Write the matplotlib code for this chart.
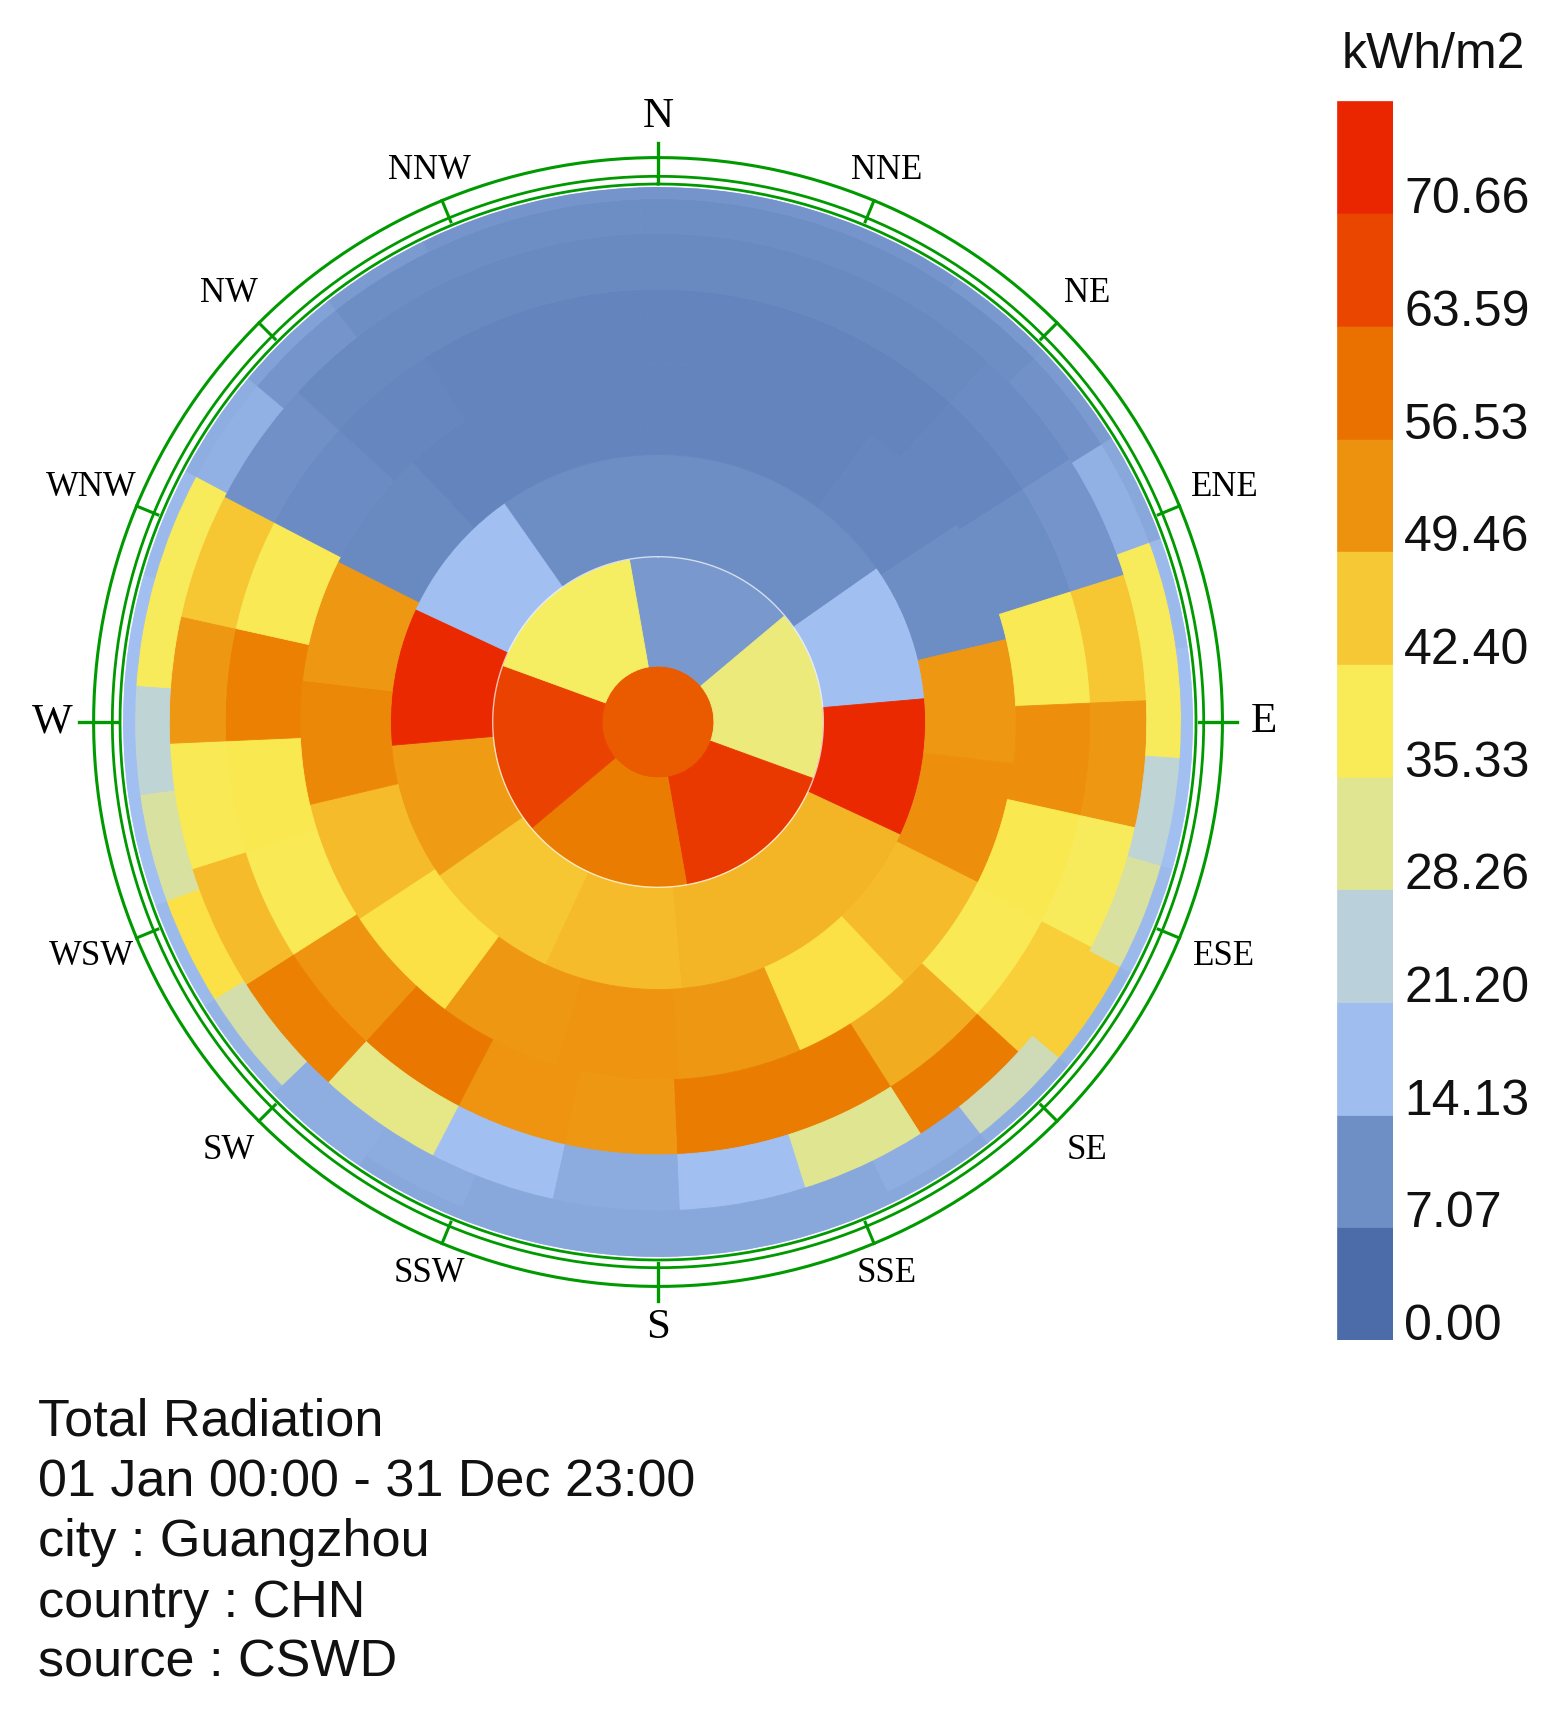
import numpy as np
import matplotlib
matplotlib.use('Agg')
import matplotlib.pyplot as plt
from matplotlib.colors import LinearSegmentedColormap, Normalize
from matplotlib.transforms import blended_transform_factory

# sky patch values (kWh/m2), Tregenza rows from zenith outwards, clockwise from north
zenith = [66]
row_72 = [9.5, 33, 73, 60, 71, 36]
row_60 = [7.5, 7.5, 16, 77, 49, 49, 48, 47, 52, 77, 16, 7.5]
row_48 = [5.5, 5.5, 6, 7.5, 53, 55, 48, 44, 53, 54, 53, 44, 48, 57, 53, 6.5, 5.5, 5.5]
row_36 = [5.5, 5.5, 5.5, 6, 7.5, 40, 55, 41, 40, 50, 60, 60, 53, 54, 61, 54, 40, 41, 59, 40,
          7, 6, 5.5, 5.5]
row_24 = [6.5, 6.5, 6.5, 7, 9, 47, 53, 38, 46, 60, 31, 16, 12.5, 16, 32, 59, 48, 40, 53, 47,
          8, 6.5, 6.5, 6.5]
row_12 = [7.5, 7.5, 7.5, 7.5, 8.5, 13.5, 38, 38, 25, 30, 46, 28, 13, 12, 12, 12, 12, 12.5, 13, 29,
          44, 30, 25, 38, 38, 13.5, 9, 7.5, 7.5, 7.5]
row_0 = [9, 9, 9, 9.5, 10, 12, 15, 16, 16, 15, 14, 13, 12, 12, 12, 12, 12, 12, 13, 14,
         15, 16, 16, 16, 15, 13, 11, 10, 9, 9]

rows = [zenith, row_72, row_60, row_48, row_36, row_24, row_12, row_0]
row_top_alt = [90, 84, 72, 60, 48, 36, 24, 12]

legend_labels = ['0.00', '7.07', '14.13', '21.20', '28.26', '35.33',
                 '42.40', '49.46', '56.53', '63.59', '70.66']
legend_max = 77.726
unit = 'kWh/m2'

main_dirs = ['N', 'E', 'S', 'W']
minor_dirs = ['NNE', 'NE', 'ENE', 'ESE', 'SE', 'SSE', 'SSW', 'SW', 'WSW', 'WNW', 'NW', 'NNW']
minor_az = [22.5, 45, 67.5, 112.5, 135, 157.5, 202.5, 225, 247.5, 292.5, 315, 337.5]

info_lines = ['Total Radiation', '01 Jan 00:00 - 31 Dec 23:00', 'city : Guangzhou',
              'country : CHN', 'source : CSWD']

lb_colors = [(75, 107, 169), (115, 147, 202), (170, 200, 247), (193, 213, 208), (245, 239, 103),
             (252, 230, 74), (239, 156, 21), (234, 123, 0), (234, 74, 0), (234, 38, 0)]
cmap = LinearSegmentedColormap.from_list('lb', [tuple(c / 255 for c in col) for col in lb_colors])
norm = Normalize(0, legend_max)

green = '#009a00'
sans = ['Liberation Sans', 'DejaVu Sans']
serif = ['Liberation Serif', 'DejaVu Serif']

fig = plt.figure(figsize=(15.58, 17.16), dpi=100)
ax = fig.add_axes([0.07895, 0.26748, 0.6868, 0.62354], projection='polar')
ax.set_theta_zero_location('N')
ax.set_theta_direction(-1)
ax.set_ylim(0, 1)
ax.set_axis_off()

# orthographic sky dome: radius = cos(altitude)
for vals, top in zip(rows, row_top_alt):
    n = len(vals)
    r_in = np.cos(np.deg2rad(top))
    r_out = np.cos(np.deg2rad(top - 12)) if top > 12 else 1.0
    if n == 1:
        r_in, r_out = 0.0, np.cos(np.deg2rad(84))
    w = 2 * np.pi / n
    theta = np.deg2rad(360.0 / n * (np.arange(n) + 0.5) - 60.0 / n)
    cols = cmap(norm(np.array(vals)))
    ax.bar(theta, r_out - r_in, width=w, bottom=r_in, color=cols,
           edgecolor=cols, linewidth=0.6, align='center')

# faint seam at the edge of the 6-patch row
tt = np.linspace(0, 2 * np.pi, 500)
ax.plot(tt, np.full_like(tt, np.cos(np.deg2rad(72))), color='white', lw=1.0, alpha=0.7)

# compass rings
for rr, lw in [(1.0056, 2.0), (1.020, 2.0), (1.055, 2.2)]:
    ax.plot(tt, np.full_like(tt, rr), color=green, lw=lw, clip_on=False)

for i, d in enumerate(main_dirs):
    a = np.deg2rad(90 * i)
    ax.plot([a, a], [1.012, 1.083], color=green, lw=2.4, clip_on=False)
    ax.text(a, 1.132, d, ha='center', va='center', fontsize=31, family=serif)

for d, az in zip(minor_dirs, minor_az):
    a = np.deg2rad(az)
    ax.plot([a, a], [1.012, 1.055], color=green, lw=2.2, clip_on=False)
    ax.text(a, 1.095 + 0.055 * abs(np.sin(a)), d, ha='center', va='center',
            fontsize=25, family=serif)

# legend bar
cax = fig.add_axes([0.8582, 0.2191, 0.0359, 0.7223])
bounds = np.linspace(0, legend_max, len(legend_labels) + 1)
seg_cols = cmap(np.linspace(0, 1, len(legend_labels)))
cax.bar(0.5, np.diff(bounds), bottom=bounds[:-1], width=1.0, color=seg_cols,
        edgecolor=seg_cols, linewidth=0.5)
cax.set_xlim(0, 1)
cax.set_ylim(0, legend_max)
cax.set_axis_off()
trans = blended_transform_factory(cax.transAxes, cax.transData)
for lab in legend_labels:
    cax.text(1.2, float(lab), lab, transform=trans, ha='left', va='baseline',
             fontsize=36, family=sans, color='#111111')
fig.text(1433 / 1558, 1 - 55 / 1716, unit, ha='center', va='center',
         fontsize=36, family=sans, color='#111111')

# run info
for i, line in enumerate(info_lines):
    fig.text(38 / 1558, 1 - (1436 + 60.2 * i) / 1716, line, ha='left', va='baseline',
             fontsize=37.5, family=sans, color='#111111')

fig.savefig('out.png', dpi=100, facecolor='white')
